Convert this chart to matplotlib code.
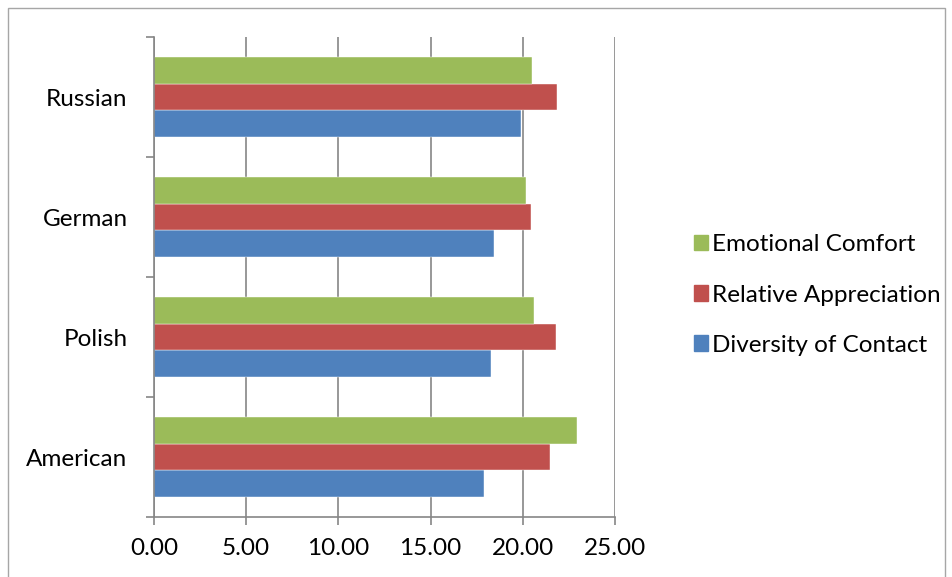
import matplotlib
matplotlib.use("Agg")
import matplotlib.pyplot as plt
from matplotlib.patches import Rectangle, Patch
import numpy as np

categories = ["American", "Polish", "German", "Russian"]
series_names = ["Diversity of Contact", "Relative Appreciation", "Emotional Comfort"]
diversity = [17.92, 18.30, 18.45, 19.91]
appreciation = [21.50, 21.79, 20.43, 21.87]
comfort = [22.96, 20.60, 20.20, 20.52]
xticks = [0, 5, 10, 15, 20, 25]
xtick_labels = ["0.00", "5.00", "10.00", "15.00", "20.00", "25.00"]

colors = ["#4F81BD", "#C0504D", "#9BBB59"]
plt.rcParams['font.family'] = ['Lato', 'DejaVu Sans']
FS = 17.5

W, H = 953, 577
fig = plt.figure(figsize=(W / 100, H / 100), dpi=100)
fig.patches.append(Rectangle((8 / W, -0.01), (945 - 8) / W, 1 - 8 / H + 0.01,
                             transform=fig.transFigure, fill=False,
                             edgecolor="#A6A6A6", linewidth=1.0))

ax = fig.add_axes([154 / W, (H - 517) / H, (615 - 154) / W, 480 / H])
y = np.arange(len(categories))
h = 2 / 9
for k, (vals, name) in enumerate(zip([diversity, appreciation, comfort], series_names)):
    ax.barh(y + (k - 1) * h, vals, height=h, color=colors[k], label=name,
            edgecolor="white", linewidth=0.3, zorder=3)

ax.set_xlim(0, 25)
ax.set_ylim(-0.5, 3.5)
ax.set_xticks(xticks)
ax.set_xticklabels(xtick_labels)
ax.set_yticks(y)
ax.set_yticklabels(categories)
ax.set_yticks(np.arange(-0.5, 4.0, 1.0), minor=True)
ax.tick_params(axis='y', which='major', length=0, pad=19, labelsize=FS)
ax.tick_params(axis='y', which='minor', length=6, color="#868686", width=1.2)
ax.tick_params(axis='x', which='major', length=6, color="#868686", width=1.2, pad=9, labelsize=FS)
ax.grid(axis='x', color="#868686", linewidth=1.2, zorder=0)
for s in ["top", "right"]:
    ax.spines[s].set_visible(False)
for s in ["left", "bottom"]:
    ax.spines[s].set_color("#868686")
    ax.spines[s].set_linewidth(1.2)
    ax.spines[s].set_zorder(4)

handles = [Patch(color=colors[k]) for k in [2, 1, 0]]
labels = [series_names[k] for k in [2, 1, 0]]
fig.legend(handles, labels, loc='center left', bbox_to_anchor=(672 / W, 1 - 295 / H),
           frameon=False, fontsize=FS, handlelength=0.6, handleheight=0.6,
           handletextpad=0.15, labelspacing=1.2)

fig.savefig("out.png", dpi=100)
